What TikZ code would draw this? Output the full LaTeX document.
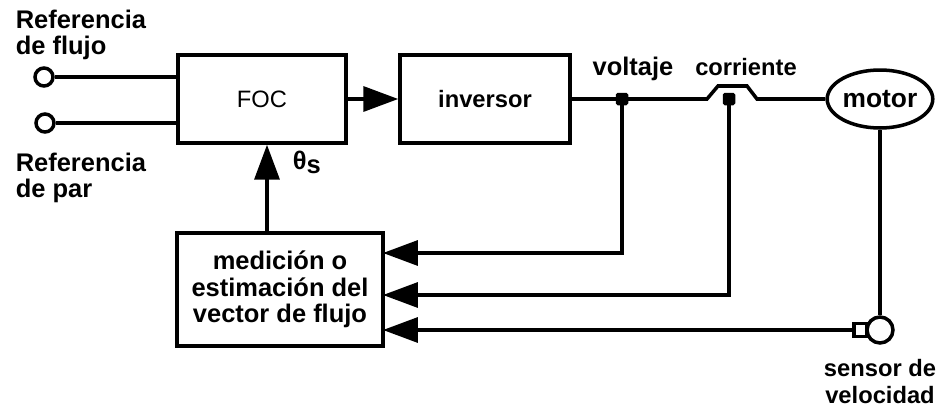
\documentclass[tikz,border=0pt]{standalone}
\usepackage{fontspec}
\setmainfont{Liberation Sans}
\usetikzlibrary{positioning,arrows.meta,shapes.geometric}

\begin{document}
\begin{tikzpicture}[
		x=0.02cm, y=-0.02cm,
		line width=2pt,
		box/.style={draw, align=center, inner sep=0pt, font={\fontsize{13.5}{15}\selectfont\bfseries}},
		lbl/.style={align=left, inner sep=0pt, font={\fontsize{13.5}{15}\selectfont\bfseries}},
		big/.style={font={\fontsize{14.5}{15}\selectfont\bfseries}},
		arrow/.style={-{Triangle[length=0.7cm,width=0.5cm]}},
		term/.style={draw, circle, minimum size=0.36cm, inner sep=0pt, fill=white},
		dot/.style={fill, rectangle, rounded corners=1pt, minimum size=0.25cm, inner sep=0pt}
	]
		\useasboundingbox (0,0) rectangle (941,406);

		\node[box, minimum width=3.36cm, minimum height=1.76cm, font={\fontsize{13.5}{15}\selectfont}] (foc) at (262,99) {FOC};
		\node[box, minimum width=3.4cm, minimum height=1.76cm] (inv) at (485,99) {inversor};
		\node[box, ellipse, minimum width=1.68cm, minimum height=1.16cm, font={\fontsize{15}{15}\selectfont\bfseries}] (motor) at (880,99) {motor};
		\node[box, big, minimum width=4.12cm, minimum height=2.26cm] (est) at (280,289.5) {medición o\\estimación del\\vector de flujo};

		\node[term] (flujo) at (44,77) {};
		\node[term] (par) at (45,123) {};
		\node[dot] (vdot) at (622,99) {};
		\node[dot] (cdot) at (729,99) {};
		\node[draw, circle, minimum size=0.52cm, inner sep=0pt] (sens) at (880,330) {};
		\node[draw, rectangle, minimum size=0.26cm, inner sep=0pt, fill=white] (sq) at (860.5,330) {};

		\node[lbl, big, anchor=north west] (lflujo) at (14,8) {Referencia\\de flujo};
		\node[lbl, big, anchor=north west] (lpar) at (14,151) {Referencia\\de par};
		\node[lbl, big, anchor=base] (lvolt) at (633,75) {voltaje};
		\node[lbl, anchor=base] (lcorr) at (746,75) {corriente};
		\node[lbl, big, anchor=base west] (theta) at (291,169) {θ\raisebox{-0.08cm}{s}};
		\node[lbl, align=center, anchor=north] (lsens) at (880,358) {sensor de\\velocidad};

		% salto sobre el punto de corriente
		\coordinate (j1) at (707,99);
		\coordinate (j2) at (718,86);
		\coordinate (j3) at (747,86);
		\coordinate (j4) at (757,99);
		% entradas del bloque de estimacion
		\coordinate (e1) at (383,253);
		\coordinate (e2) at (383,295);
		\coordinate (e3) at (383,330);
		\coordinate (up) at (267,233);

		\draw (flujo.east) -- (foc.west |- flujo);
		\draw (par.east) -- (foc.west |- par);
		\draw[arrow] (foc) -- (inv);
		\draw (inv.east) -- (vdot.center) -- (j1) -- (j2) -- (j3) -- (j4) -- (motor.west);
		\draw[arrow] (vdot.center) |- (e1);
		\draw[arrow] (cdot.center) |- (e2);
		\draw (motor.south) -- (sens.north);
		\draw[arrow] (sq.west) -- (e3);
		\draw[arrow] (up) -- (up |- foc.south);
	\end{tikzpicture}
\end{document}
